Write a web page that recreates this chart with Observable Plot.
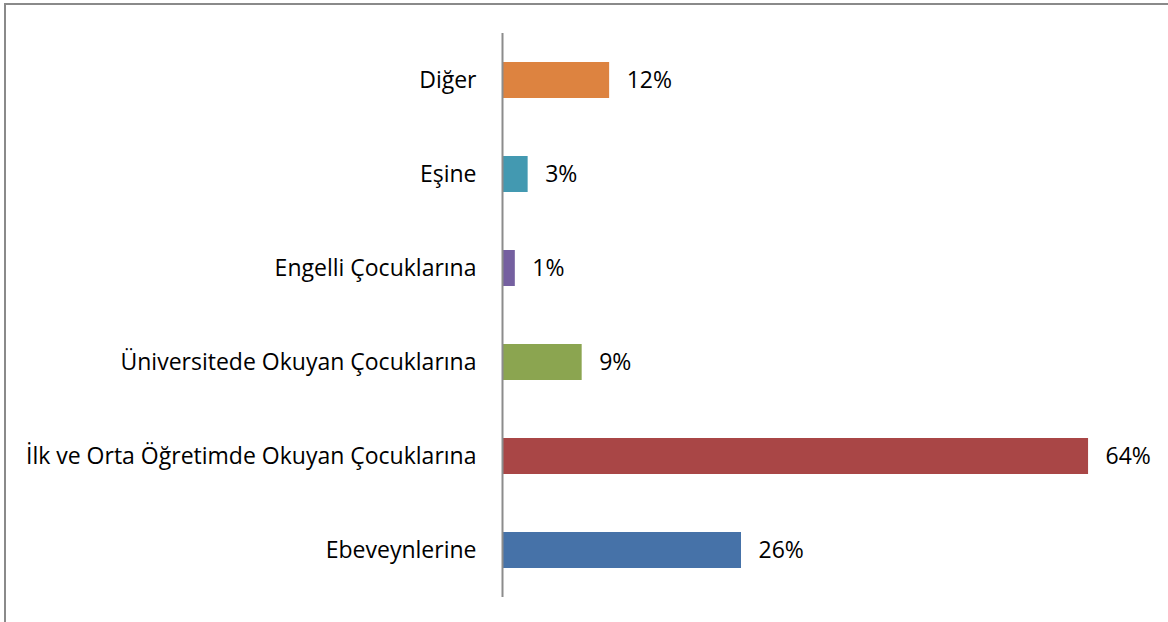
<!DOCTYPE html>
<html>
<head>
<meta charset="utf-8">
<script src="https://cdn.jsdelivr.net/npm/d3@7"></script>
<script src="https://cdn.jsdelivr.net/npm/@observablehq/plot@0.6"></script>
<style>
  html, body { margin: 0; padding: 0; background: #fff; }
  #wrap { position: relative; width: 1168px; height: 622px; overflow: hidden; }
  #frame { position: absolute; left: 4px; top: 3px; width: 1200px; height: 700px;
           border-left: 2px solid #8a8a8a; border-top: 2px solid #8a8a8a; box-sizing: border-box; pointer-events: none; }
  #chart { position: absolute; left: 0; top: 0; }
</style>
</head>
<body>
<div id="wrap"><div id="chart"></div><div id="frame"></div></div>
<script>
const categories = ["Diğer", "Eşine", "Engelli Çocuklarına", "Üniversitede Okuyan Çocuklarına", "İlk ve Orta Öğretimde Okuyan Çocuklarına", "Ebeveynlerine"];
const values = [11.7, 2.8, 1.4, 8.7, 64, 26.1];
const valueLabels = ["12%", "3%", "1%", "9%", "64%", "26%"];
const colors = ["#DD8340", "#4399B1", "#7560A0", "#8BA550", "#A94646", "#4672A8"];

const data = categories.map((c, i) => ({cat: c, v: values[i], label: valueLabels[i], color: colors[i]}));

const chart = Plot.plot({
  width: 1168,
  height: 622,
  marginLeft: 502,
  marginRight: 25,
  marginTop: 33,
  marginBottom: 25,
  style: {fontFamily: "'Open Sans', sans-serif", fontSize: "23px", color: "#000", background: "transparent"},
  x: {domain: [0, 70], axis: null},
  y: {domain: categories, paddingInner: 0.617, paddingOuter: 0.3085, label: null},
  marks: [
    Plot.barX(data, {x: "v", y: "cat", fill: "color"}),
    Plot.text(data, {x: "v", y: "cat", text: "label", dx: 17, textAnchor: "start", fontSize: 23, fill: "#000"}),
    Plot.ruleX([0], {stroke: "#8c8c8c", strokeWidth: 2}),
    Plot.axisY({tickSize: 0, tickPadding: 26, fontSize: 23, label: null, fill: "#000"})
  ]
});
document.getElementById("chart").appendChild(chart);
</script>
</body>
</html>
